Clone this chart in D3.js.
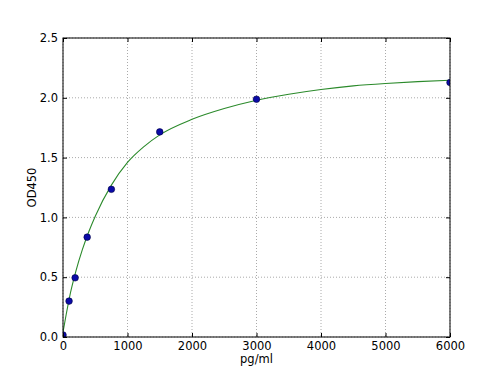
<!DOCTYPE html>
<html>
<head>
<meta charset="utf-8">
<script src="https://cdn.jsdelivr.net/npm/d3@7"></script>
<style>
  body { margin: 0; background: #fff; }
  text { font-family: "DejaVu Sans", sans-serif; font-size: 11.5px; fill: #000; }
</style>
</head>
<body>
<div class="chart"></div>
<script>
// standard points
var concs = [0, 94, 188, 375, 750, 1500, 3000, 6000];
var ods = [0.017, 0.30, 0.495, 0.835, 1.235, 1.715, 1.988, 2.128];

// fitted curve
var fitX = [0, 50, 100, 200, 300, 400, 500, 750, 1000, 1250, 1500, 2000, 2500, 3000, 3500, 4000, 4500, 5000, 5500, 6000];
var fitY = [0.04, 0.19, 0.33, 0.55, 0.73, 0.88, 1.01, 1.27, 1.46, 1.59, 1.69, 1.82, 1.91, 1.98, 2.03, 2.07, 2.10, 2.12, 2.135, 2.147];

var xTicks = [0, 1000, 2000, 3000, 4000, 5000, 6000];
var yTicks = [0, 0.5, 1.0, 1.5, 2.0, 2.5];

var margin = {top: 38, right: 50, bottom: 38, left: 63},
    width = 500 - margin.left - margin.right,
    height = 375 - margin.top - margin.bottom;

var x = d3.scaleLinear().domain([0, 6000]).range([0, width]);
var y = d3.scaleLinear().domain([0, 2.5]).range([height, 0]);

var svg = d3.select(".chart").append("svg")
    .attr("width", 500)
    .attr("height", 375);

svg.append("defs").append("clipPath")
    .attr("id", "plot")
  .append("rect")
    .attr("width", width)
    .attr("height", height);

var g = svg.append("g")
    .attr("transform", "translate(" + margin.left + "," + margin.top + ")");

// grid
g.selectAll(".gx").data(xTicks).enter().append("line")
    .attr("x1", d => x(d)).attr("x2", d => x(d))
    .attr("y1", 0).attr("y2", height)
    .style("stroke", "#aaa").style("stroke-dasharray", "1,2");
g.selectAll(".gy").data(yTicks).enter().append("line")
    .attr("y1", d => y(d)).attr("y2", d => y(d))
    .attr("x1", 0).attr("x2", width)
    .style("stroke", "#aaa").style("stroke-dasharray", "1,2");

// fit line
var line = d3.line()
    .x(function(d, i) { return x(fitX[i]); })
    .y(function(d) { return y(d); })
    .curve(d3.curveMonotoneX);

g.append("path")
    .datum(fitY)
    .attr("d", line)
    .attr("clip-path", "url(#plot)")
    .style("fill", "none")
    .style("stroke", "#2b8a2b")
    .style("stroke-width", 1.1);

// points
g.append("g").attr("clip-path", "url(#plot)")
  .selectAll("circle").data(ods).enter().append("circle")
    .attr("cx", function(d, i) { return x(concs[i]); })
    .attr("cy", function(d) { return y(d); })
    .attr("r", 3.3)
    .style("fill", "#0a0aa8")
    .style("stroke", "#000040")
    .style("stroke-width", 0.6);

// axes, ticks inward on all sides
var ax = [
  {axis: d3.axisBottom(x).tickValues(xTicks).tickFormat(d3.format("d")), t: "translate(0," + height + ")", lbl: true},
  {axis: d3.axisTop(x).tickValues(xTicks), t: "translate(0,0)", lbl: false},
  {axis: d3.axisLeft(y).tickValues(yTicks).tickFormat(d3.format(".1f")), t: "translate(0,0)", lbl: true},
  {axis: d3.axisRight(y).tickValues(yTicks), t: "translate(" + width + ",0)", lbl: false}
];
ax.forEach(function(a) {
  var s = g.append("g")
      .attr("transform", a.t)
      .call(a.axis.tickSizeInner(-4).tickSizeOuter(0).tickPadding(5));
  s.select(".domain").remove();
  s.selectAll("line").style("stroke", "#000");
  s.selectAll("text").style("font-size", "11.5px").style("font-family", "DejaVu Sans");
  if (!a.lbl) s.selectAll("text").remove();
});

g.append("rect")
    .attr("width", width)
    .attr("height", height)
    .style("fill", "none")
    .style("stroke", "#000")
    .style("stroke-width", 1);

// axis labels
svg.append("text")
    .attr("x", margin.left + width / 2)
    .attr("y", 363)
    .attr("text-anchor", "middle")
    .text("pg/ml");

svg.append("text")
    .attr("transform", "translate(36," + (margin.top + height / 2) + ") rotate(-90)")
    .attr("text-anchor", "middle")
    .text("OD450");
</script>
</body>
</html>
